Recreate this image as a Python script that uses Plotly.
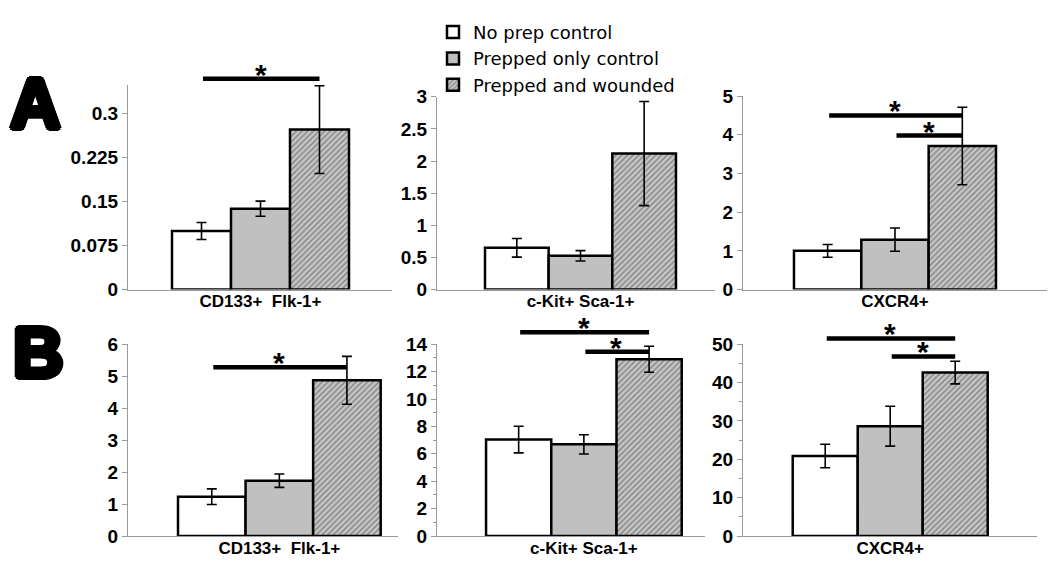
import plotly.graph_objects as go

# ---------------- data ----------------
groups = ["No prep control", "Prepped only control", "Prepped and wounded"]
marker_labels = ["CD133+  Flk-1+", "c-Kit+ Sca-1+", "CXCR4+"]

# Row A
a_cd133 = [0.100, 0.138, 0.273]
a_cd133_err = [0.0145, 0.013, 0.075]
a_ckit = [0.65, 0.525, 2.115]
a_ckit_err = [0.145, 0.08, 0.81]
a_cxcr4 = [1.0, 1.29, 3.71]
a_cxcr4_err = [0.165, 0.30, 1.0]

# Row B
b_cd133 = [1.23, 1.73, 4.87]
b_cd133_err = [0.245, 0.21, 0.75]
b_ckit = [7.04, 6.69, 12.9]
b_ckit_err = [0.97, 0.70, 0.95]
b_cxcr4 = [20.85, 28.64, 42.6]
b_cxcr4_err = [3.05, 5.2, 2.95]

# significance brackets: (from group, to group, height)
a_cd133_sig = [(0, 2, 0.360)]
a_ckit_sig = []
a_cxcr4_sig = [(0, 2, 4.50), (1, 2, 3.98)]
b_cd133_sig = [(0, 2, 5.28)]
b_ckit_sig = [(0, 2, 14.88), (1, 2, 13.44)]
b_cxcr4_sig = [(0, 2, 51.5), (1, 2, 46.8)]

# y tick values / labels
a_cd133_ticks = [0, 0.075, 0.15, 0.225, 0.3]
a_cd133_ticktext = ["0", "0.075", "0.15", "0.225", "0.3"]
a_ckit_ticks = [0, 0.5, 1, 1.5, 2, 2.5, 3]
a_cxcr4_ticks = [0, 1, 2, 3, 4, 5]
b_cd133_ticks = [0, 1, 2, 3, 4, 5, 6]
b_ckit_ticks = [0, 2, 4, 6, 8, 10, 12, 14]
b_cxcr4_ticks = [0, 10, 20, 30, 40, 50]

# ---------------- layout / style ----------------
W, H = 1050, 582
AXIS_GRAY = "#9a9a9a"
TICK_FONT = dict(family="Liberation Sans, Arial, sans-serif", size=19, color="black", weight="bold")
CAT_FONT = dict(family="Liberation Sans, Arial, sans-serif", size=17, color="black", weight="bold")


def py(v):
    return 1 - v / H


fills = [
    dict(color="#ffffff"),
    dict(color="#c0c0c0"),
    dict(color="#bdbdbd", pattern=dict(shape="/", fgcolor="#4a4a4a", bgcolor="#c8c8c8",
                                       size=4, solidity=0.4, fillmode="overlay")),
]

panels = [
    dict(vals=a_cd133, err=a_cd133_err, sig=a_cd133_sig, label=marker_labels[0],
         px=(128, 392), py=(77.3, 290), yr=0.35, xr=(-2.246, 2.229),
         tv=a_cd133_ticks, tt=a_cd133_ticktext, minor=None),
    dict(vals=a_ckit, err=a_ckit_err, sig=a_ckit_sig, label=marker_labels[1],
         px=(437, 715), py=(90, 290), yr=3, xr=(-2.254, 2.113),
         tv=a_ckit_ticks, tt=[str(v) for v in a_ckit_ticks], minor=None),
    dict(vals=a_cxcr4, err=a_cxcr4_err, sig=a_cxcr4_sig, label=marker_labels[2],
         px=(743, 1046.7), py=(89.3, 290), yr=5, xr=(-2.257, 2.253),
         tv=a_cxcr4_ticks, tt=[str(v) for v in a_cxcr4_ticks], minor=None),
    dict(vals=b_cd133, err=b_cd133_err, sig=b_cd133_sig, label=marker_labels[0],
         px=(128, 398), py=(346.7, 545.7), yr=6, xr=(-2.24, 1.756),
         tv=b_cd133_ticks, tt=[str(v) for v in b_cd133_ticks], minor=None),
    dict(vals=b_ckit, err=b_ckit_err, sig=b_ckit_sig, label=marker_labels[1],
         px=(437, 705), py=(346.7, 545.7), yr=14, xr=(-2.252, 1.857),
         tv=b_ckit_ticks, tt=[str(v) for v in b_ckit_ticks], minor=1),
    dict(vals=b_cxcr4, err=b_cxcr4_err, sig=b_cxcr4_sig, label=marker_labels[2],
         px=(743, 1036.7), py=(346.7, 545.7), yr=50, xr=(-2.265, 2.254),
         tv=b_cxcr4_ticks, tt=[str(v) for v in b_cxcr4_ticks], minor=5),
]

fig = go.Figure()
annotations = []
layout_axes = {}

for k, p in enumerate(panels, start=1):
    xa = "x" if k == 1 else f"x{k}"
    ya = "y" if k == 1 else f"y{k}"
    ydom = f"{ya} domain"
    for g, name in enumerate(groups):
        fig.add_trace(go.Bar(
            x=[g - 1], y=[p["vals"][g]], width=1, name=name,
            legendgroup=name, showlegend=(k == 1),
            marker=dict(line=dict(color="black", width=2.5), **fills[g]),
            error_y=dict(type="data", array=[p["err"][g]], color="black",
                         thickness=1.6, width=5),
            xaxis=xa, yaxis=ya,
        ))
    for (i, j, h) in p["sig"]:
        frac = h / p["yr"]  # position along the y axis (fraction of its range)
        annotations.append(dict(
            x=j - 1, y=frac, ax=i - 1, ay=frac, xref=xa, yref=ydom, axref=xa, ayref=ydom,
            text="", showarrow=True, arrowhead=0, arrowwidth=4.5, arrowcolor="black",
            standoff=0, startstandoff=0))
        annotations.append(dict(
            x=(i + j) / 2 - 1, y=frac, xref=xa, yref=ydom, text="*", showarrow=False,
            yanchor="bottom", yshift=-14,
            font=dict(family="Liberation Sans, Arial, sans-serif", size=30,
                      color="black", weight="bold")))

    xkey = "xaxis" if k == 1 else f"xaxis{k}"
    ykey = "yaxis" if k == 1 else f"yaxis{k}"
    layout_axes[xkey] = dict(
        domain=[p["px"][0] / W, p["px"][1] / W], range=list(p["xr"]), anchor=ya,
        showline=True, linecolor=AXIS_GRAY, linewidth=1.2,
        tickvals=[0], ticktext=[p["label"]], ticks="", tickfont=CAT_FONT,
        ticklabelstandoff=-4,
        showgrid=False, zeroline=False, fixedrange=True)
    ydict = dict(
        domain=[py(p["py"][1]), py(p["py"][0])], range=[0, p["yr"]], anchor=xa,
        showline=True, linecolor=AXIS_GRAY, linewidth=1.2,
        ticks="outside", ticklen=5, tickcolor=AXIS_GRAY, tickwidth=1.2,
        tickvals=p["tv"], ticktext=p["tt"], tickfont=TICK_FONT,
        showgrid=False, zeroline=False, fixedrange=True)
    if p["minor"]:
        ydict["minor"] = dict(dtick=p["minor"], tick0=0, ticks="outside", ticklen=3,
                              tickcolor=AXIS_GRAY, tickwidth=1, showgrid=False)
    layout_axes[ykey] = ydict

thick = ("3px 0 0 black, -3px 0 0 black, 0 3px 0 black, 0 -3px 0 black, "
         "2px 2px 0 black, -2px -2px 0 black, 2px -2px 0 black, -2px 2px 0 black")
for letter, (lx, ly) in zip(["A", "B"], [(35, 98), (38, 356)]):
    annotations.append(dict(
        x=lx / W, y=py(ly), xref="paper", yref="paper", text=letter,
        showarrow=False, xanchor="center", yanchor="middle",
        font=dict(family="Liberation Sans, Arial, sans-serif", size=70, color="black",
                  weight="bold", shadow=thick)))

fig.update_layout(
    width=W, height=H, margin=dict(l=0, r=0, t=0, b=0),
    paper_bgcolor="white", plot_bgcolor="white",
    barmode="overlay", showlegend=True,
    legend=dict(x=433 / W, y=py(4), xanchor="left", yanchor="top",
                font=dict(family="DejaVu Sans, Verdana, sans-serif", size=18, color="black"),
                bgcolor="rgba(0,0,0,0)", tracegroupgap=0, itemwidth=30),
    annotations=annotations,
    **layout_axes,
)

fig.write_html("out.html", post_script="document.body.style.margin='0';",
               config={"displayModeBar": False})
